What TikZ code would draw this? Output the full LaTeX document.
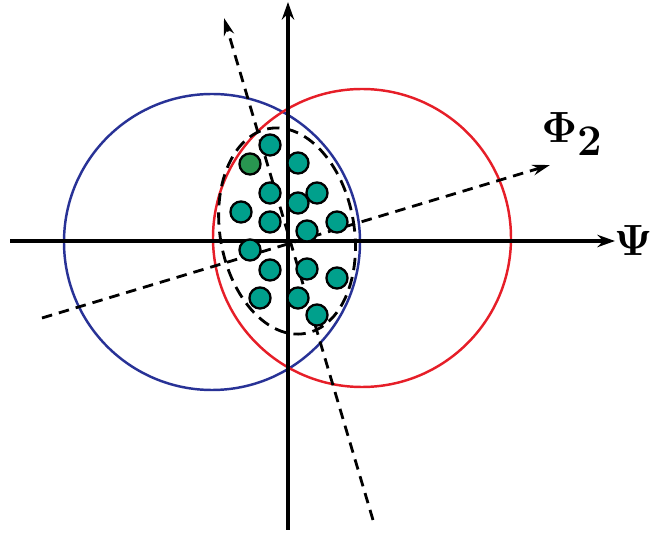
\documentclass[tikz,border=0pt]{standalone}
\usepackage{amsmath}
\usepackage{bm}
\usepackage{tikz}
\usepackage{xcolor}
\usetikzlibrary{arrows.meta,positioning,calc}
\definecolor{CircBlue}{RGB}{40,50,150}
\definecolor{CircRed}{RGB}{230,30,40}
\definecolor{DotTeal}{RGB}{0,160,140}
\definecolor{DotGreen}{RGB}{40,150,80}

\begin{document}
\begin{tikzpicture}[x=0.02cm,y=-0.02cm,
  axis/.style={line width=1.9pt, -{Stealth[length=10pt,width=7pt]}},
  dashline/.style={line width=1.6pt, dash pattern=on 6pt off 4pt, -{Stealth[length=10pt,width=6pt]}},
  ring/.style={line width=1.4pt},
  dot/.style={circle, draw=black, line width=1.3pt, fill=DotTeal, minimum size=12pt, inner sep=0pt},
  lbl/.style={font=\fontsize{35}{40}\selectfont}]
\useasboundingbox (0,0) rectangle (657,533);
% circles and cluster
\coordinate (cb) at (212,242);
\coordinate (cr) at (362,238);
\coordinate (ce) at (287,231);
\draw[ring, CircBlue] (cb) circle (148);
\draw[ring, CircRed] (cr) circle (149);
\draw[line width=1.6pt, dash pattern=on 7pt off 4pt, rotate around={10:(ce)}]
  (ce) ellipse [x radius=67, y radius=104];
% axes
\coordinate (xs) at (10,241);
\coordinate (xe) at (615,241);
\coordinate (ys) at (288,530);
\coordinate (ye) at (288,2);
\draw[axis] (xs) -- (xe);
\draw[axis] (ys) -- (ye);
\node[lbl, right=-4pt of xe] (psi) {$\bm{\Psi}$};
% rotated directions
\coordinate (as) at (373,520);
\coordinate (ae) at (224,18);
\coordinate (bs) at (42,318);
\coordinate (be) at (550,165);
\draw[dashline] (as) -- (ae);
\draw[dashline] (bs) -- (be);
\node[lbl] (phi) at (572,134) {$\bm{\Phi}_{\bm{2}}$};
% samples
\foreach \px/\py [count=\i] in {270/145,298/163,270/193,317/193,298/203,
    241/212,270/222,337/222,307/231,250/250,270/270,307/269,337/278,
    260/298,298/298,317/315}
  \node[dot] (s\i) at (\px,\py) {};
\node[dot, fill=DotGreen] (s0) at (250,164) {};
\end{tikzpicture}
\end{document}
